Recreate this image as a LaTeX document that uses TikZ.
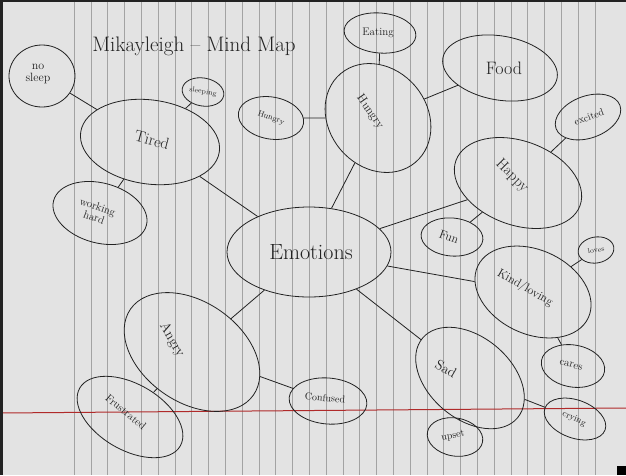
\documentclass[tikz,border=0pt]{standalone}
\usetikzlibrary{shapes.geometric}
\definecolor{paper}{HTML}{E3E3E3}
\definecolor{rulecol}{HTML}{A3A3A3}
\definecolor{margincol}{HTML}{B02A2A}
\definecolor{ink}{HTML}{222222}
\tikzset{
  bub/.style={ellipse, draw=ink, line width=0.8pt, inner sep=0pt},
  lbl/.style={text=ink, inner sep=0pt, align=center},
  link/.style={draw=ink, line width=0.8pt},
  rulel/.style={draw=rulecol, line width=0.6pt},
}
\newcommand{\fs}[1]{\fontsize{#1}{#1}\selectfont}
\begin{document}
\begin{tikzpicture}[x=1pt,y=-1pt]
\useasboundingbox (0,0) rectangle (626,475);
\fill[paper] (0,0) rectangle (626,475);
\foreach \i in {0,...,31} \draw[rulel] ({74+16.8*\i},0) -- ++(0,475);
\draw[margincol, line width=1pt] (0,413) -- (626,408);
\fill[ink] (0,0) rectangle (626,2);
\fill[ink] (0,0) rectangle (3,475);
\fill[black] (617,466) rectangle (626,475);

\node[lbl, font=\fs{21}] (title) at (194,46) {Mikayleigh -- Mind Map};

% bubbles
\node[bub, minimum width=164, minimum height=90] (emo) at (309,252) {};
\node[bub, minimum width=140, minimum height=84, rotate=-8] (tired) at (150,142) {};
\node[bub, minimum width=66, minimum height=62] (nosleep) at (42,76) {};
\node[bub, minimum width=42, minimum height=28, rotate=-10] (sleeping) at (203,92) {};
\node[bub, minimum width=96, minimum height=60, rotate=-15] (work) at (100,213) {};
\node[bub, minimum width=66, minimum height=42, rotate=-10] (hsmall) at (271,118) {};
\node[bub, minimum width=116, minimum height=98, rotate=-50] (hungry) at (378,118) {};
\node[bub, minimum width=72, minimum height=40, rotate=-5] (eating) at (380,33) {};
\node[bub, minimum width=116, minimum height=64, rotate=-10] (food) at (500,68) {};
\node[bub, minimum width=68, minimum height=42, rotate=20] (excited) at (588,117) {};
\node[bub, minimum width=132, minimum height=84, rotate=-20] (happy) at (518,183) {};
\node[bub, minimum width=62, minimum height=38, rotate=-5] (fun) at (452,237) {};
\node[bub, minimum width=122, minimum height=84, rotate=-25] (kind) at (533,292) {};
\node[bub, minimum width=36, minimum height=26, rotate=10] (loves) at (596,250) {};
\node[bub, minimum width=64, minimum height=42, rotate=-10] (cares) at (573,366) {};
\node[bub, minimum width=124, minimum height=82, rotate=-40] (sad) at (470,378) {};
\node[bub, minimum width=56, minimum height=38, rotate=-10] (upset) at (455,437) {};
\node[bub, minimum width=64, minimum height=38, rotate=-20] (crying) at (575,419) {};
\node[bub, minimum width=150, minimum height=100, rotate=-35] (angry) at (192,352) {};
\node[bub, minimum width=116, minimum height=66, rotate=-30] (frus) at (130,417) {};
\node[bub, minimum width=78, minimum height=46, rotate=-5] (conf) at (328,401) {};

% labels
\node[lbl, font=\fs{22}] (emo-t) at (311,252) {Emotions};
\node[lbl, font=\fs{16}, rotate=-15] (tired-t) at (152,140) {Tired};
\node[lbl, font=\fs{12}] (nosleep-t) at (38,74) {no\\sleep};
\node[lbl, font=\fs{7}, rotate=-10] (sleeping-t) at (203,92) {sleeping};
\node[lbl, font=\fs{11}, rotate=-20] (work-t) at (96,212) {working\\hard};
\node[lbl, font=\fs{8}, rotate=-20] (hsmall-t) at (271,118) {Hungry};
\node[lbl, font=\fs{12}, rotate=-55] (hungry-t) at (370,112) {Hungry};
\node[lbl, font=\fs{11}] (eating-t) at (378,33) {Eating};
\node[lbl, font=\fs{18}] (food-t) at (504,68) {Food};
\node[lbl, font=\fs{10}, rotate=20] (excited-t) at (589,117) {excited};
\node[lbl, font=\fs{15}, rotate=-45] (happy-t) at (512,176) {Happy};
\node[lbl, font=\fs{12}, rotate=-20] (fun-t) at (449,237) {Fun};
\node[lbl, font=\fs{12}, rotate=-30] (kind-t) at (525,288) {Kind/loving};
\node[lbl, font=\fs{7}, rotate=10] (loves-t) at (596,250) {loves};
\node[lbl, font=\fs{11}, rotate=-15] (cares-t) at (571,365) {cares};
\node[lbl, font=\fs{14}, rotate=-30] (sad-t) at (446,369) {Sad};
\node[lbl, font=\fs{10}, rotate=10] (upset-t) at (453,436) {upset};
\node[lbl, font=\fs{9}, rotate=-25] (crying-t) at (574,419) {crying};
\node[lbl, font=\fs{14}, rotate=-60] (angry-t) at (172,340) {Angry};
\node[lbl, font=\fs{11}, rotate=-40] (frus-t) at (126,412) {Frustrated};
\node[lbl, font=\fs{10}, rotate=-5] (conf-t) at (325,398) {Confused};

% connectors
\draw[link] (tired) -- (nosleep);
\draw[link] (tired) -- (sleeping);
\draw[link] (tired) -- (work);
\draw[link] (tired) -- (emo);
\draw[link] (hsmall) -- (hungry);
\draw[link] (eating) -- (hungry);
\draw[link] (hungry) -- (food);
\draw[link] (hungry) -- (emo);
\draw[link] (emo) -- (happy);
\draw[link] (happy) -- (fun);
\draw[link] (happy) -- (excited);
\draw[link] (emo) -- (kind);
\draw[link] (kind) -- (loves);
\draw[link] (kind) -- (cares);
\draw[link] (emo) -- (sad);
\draw[link] (sad) -- (upset);
\draw[link] (sad) -- (crying);
\draw[link] (emo) -- (angry);
\draw[link] (angry) -- (frus);
\draw[link] (angry) -- (conf);
\end{tikzpicture}
\end{document}
